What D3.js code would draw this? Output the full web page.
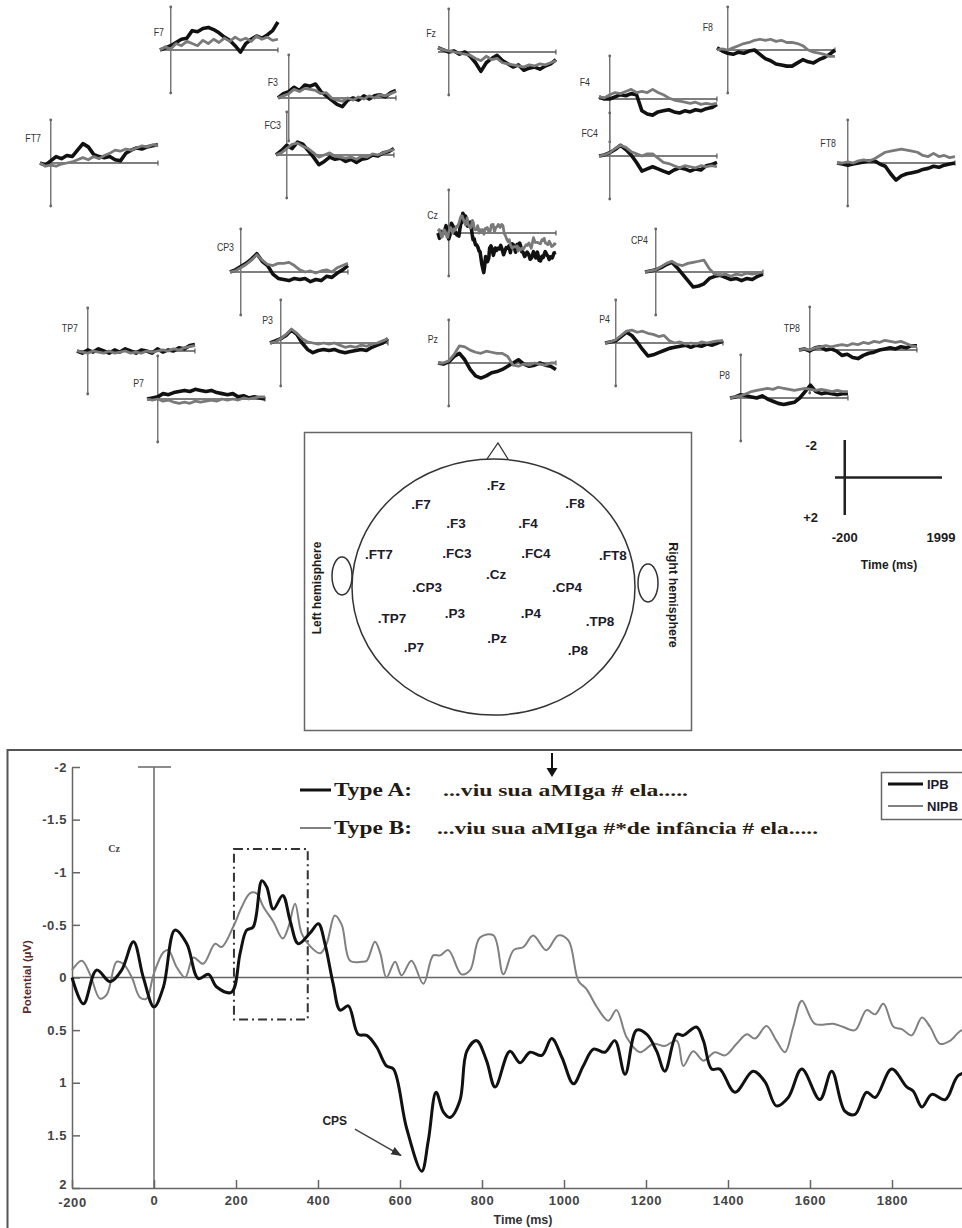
<!DOCTYPE html>
<html><head><meta charset="utf-8">
<script src="https://cdn.jsdelivr.net/npm/d3@7"></script>
<style>body{margin:0;background:#fff}svg{display:block}</style>
</head><body>
<svg id="c" width="962" height="1228"></svg>
<script>
// ===== Main Cz waveform data (ms, µV; negative up) =====
const ipbTime  = [-200,-172,-140,-107,-79,-50,-26,0,23,51,80,108,133,153,189,210,226,242,263,275,291,314,332,352,380,401,417,437,454,474,498,519,543,567,584,616,653,669,688,706,722,746,763,787,811,832,868,893,917,946,970,995,1023,1047,1072,1100,1124,1149,1177,1202,1226,1246,1275,1291,1323,1340,1360,1380,1417,1461,1490,1518,1547,1580,1624,1653,1685,1710,1738,1759,1799,1836,1852,1873,1897,1930,1962,1999];
const ipbValue = [0,0.25,-0.07,0.04,-0.07,-0.34,0,0.28,0.09,-0.45,-0.32,0.01,-0.03,0.09,0.14,-0.23,-0.45,-0.48,-0.92,-0.86,-0.65,-0.78,-0.54,-0.32,-0.42,-0.51,-0.32,0.06,0.31,0.27,0.54,0.55,0.66,0.84,0.87,1.43,1.84,1.55,1.09,1.28,1.33,1.17,0.70,0.60,0.79,1.04,0.70,0.81,0.71,0.74,0.58,0.76,1.01,0.84,0.68,0.71,0.60,0.92,0.50,0.54,0.70,0.89,0.54,0.55,0.47,0.60,0.87,0.87,1.09,0.89,0.99,1.22,1.14,0.87,1.16,0.89,1.27,1.30,1.09,1.14,0.87,1.04,1.08,1.23,1.11,1.16,0.93,0.90];
const nipbTime  = [-200,-176,-156,-132,-115,-91,-75,-54,-34,-18,-1,23,35,55,76,96,120,149,165,193,214,234,250,267,291,314,328,344,360,380,405,421,441,458,478,507,519,539,552,567,588,604,628,657,681,698,718,750,771,795,828,852,877,901,925,957,986,1011,1035,1055,1080,1108,1128,1153,1185,1218,1246,1275,1291,1315,1340,1368,1393,1421,1446,1466,1494,1518,1539,1559,1580,1612,1657,1681,1710,1738,1759,1779,1804,1824,1848,1873,1893,1917,1942,1971,1999];
const nipbValue = [-0.07,-0.16,-0.03,0.20,0.16,-0.15,-0.13,0,0.19,0.20,-0.03,-0.24,-0.26,-0.10,0,-0.19,-0.13,-0.32,-0.29,-0.48,-0.67,-0.80,-0.80,-0.67,-0.53,-0.37,-0.48,-0.70,-0.42,-0.30,-0.23,-0.32,-0.59,-0.50,-0.16,-0.15,-0.16,-0.34,-0.23,0,-0.15,-0.02,-0.16,0.06,-0.21,-0.21,-0.26,-0.03,-0.07,-0.38,-0.40,-0.03,-0.26,-0.29,-0.40,-0.26,-0.40,-0.35,0.03,0.11,0.28,0.41,0.31,0.57,0.71,0.63,0.65,0.60,0.84,0.70,0.79,0.71,0.74,0.63,0.54,0.58,0.46,0.60,0.71,0.47,0.22,0.44,0.44,0.47,0.50,0.31,0.35,0.25,0.47,0.49,0.55,0.38,0.47,0.63,0.60,0.50,0.55];
const mainYTicks = [-2,-1.5,-1,-0.5,0,0.5,1,1.5,2];
const mainXTicks = [-200,0,200,400,600,800,1000,1200,1400,1600,1800];
const seriesNames = ["IPB","NIPB"];
const windowStart = 195, windowEnd = 375, windowTop = -1.22, windowBottom = 0.4;

// ===== Topographic small waveforms (ms grid; µV) =====
const smallTime = [-200,-100,0,100,200,300,400,500,600,700,800,900,1000,1100,1200,1300,1400,1500,1600,1700,1800,1900,1999];
const ipbF7  = [0,-0.1,-0.2,-0.35,-0.5,-0.55,-0.9,-0.85,-1.0,-1.05,-0.95,-0.8,-0.6,-0.45,-0.2,0.1,-0.3,-0.5,-0.65,-0.55,-0.7,-0.9,-1.3];
const nipbF7 = [0,-0.15,-0.05,-0.3,-0.2,-0.4,-0.3,-0.2,-0.45,-0.3,-0.5,-0.35,-0.55,-0.4,-0.6,-0.45,-0.55,-0.4,-0.65,-0.5,-0.6,-0.45,-0.5];
const ipbF3  = [0,-0.2,-0.3,-0.5,-0.35,-0.6,-0.55,-0.65,-0.3,-0.1,0.1,0.3,0.4,0.1,0.0,0.1,-0.1,0.05,-0.1,-0.15,-0.05,-0.25,-0.35];
const nipbF3 = [0,-0.1,-0.2,-0.4,-0.3,-0.45,-0.4,-0.35,-0.2,-0.25,0.0,0.1,0.15,0.0,0.1,-0.05,0.05,-0.1,0.0,-0.15,-0.1,-0.2,-0.3];
const ipbFC3  = [0,-0.2,-0.45,-0.3,-0.6,-0.5,-0.2,0.1,0.45,0.3,0.1,0.2,0.15,0.3,0.2,0.35,0.2,0.15,0.0,0.05,-0.1,-0.15,-0.3];
const nipbFC3 = [0,-0.1,-0.3,-0.5,-0.55,-0.4,-0.3,-0.1,0.1,0.0,-0.1,0.05,0.1,0.15,0.1,0.2,0.05,0.1,-0.05,0.0,-0.1,-0.2,-0.25];
const ipbFT7  = [0,0.1,-0.1,-0.3,-0.2,-0.35,-0.3,-0.6,-0.9,-0.75,-0.4,-0.3,-0.25,-0.3,-0.15,-0.1,-0.45,-0.6,-0.7,-0.65,-0.75,-0.8,-0.85];
const nipbFT7 = [0,0.15,0.1,0.15,0.05,0.0,-0.05,-0.15,-0.25,-0.15,-0.3,-0.2,-0.35,-0.45,-0.6,-0.55,-0.65,-0.6,-0.7,-0.8,-0.75,-0.85,-0.8];
const ipbFz  = [-0.2,-0.1,0.0,-0.05,0.1,0.0,0.2,0.5,0.9,0.5,0.3,0.15,0.4,0.55,0.7,0.6,0.85,0.75,0.7,0.8,0.65,0.55,0.35];
const nipbFz = [-0.2,-0.1,-0.05,0.0,0.05,0.1,0.15,0.3,0.4,0.2,0.35,0.3,0.5,0.55,0.6,0.65,0.7,0.6,0.65,0.55,0.6,0.5,0.4];
const ipbF4  = [-0.1,0.0,0.0,-0.1,-0.2,-0.15,-0.25,-0.2,0.55,0.7,0.75,0.6,0.55,0.5,0.6,0.65,0.55,0.6,0.5,0.55,0.45,0.4,0.25];
const nipbF4 = [-0.1,-0.05,-0.2,-0.3,-0.25,-0.35,-0.45,-0.3,-0.35,-0.3,-0.45,-0.3,-0.2,-0.05,0.05,0.1,0.15,0.2,0.15,0.25,0.2,0.25,0.2];
const ipbFC4  = [0,-0.05,-0.15,-0.3,-0.5,-0.3,-0.05,0.3,0.7,0.6,0.5,0.6,0.7,0.8,0.65,0.55,0.6,0.7,0.6,0.65,0.45,0.4,0.3];
const nipbFC4 = [0,-0.05,-0.15,-0.35,-0.5,-0.4,-0.2,-0.1,0.0,-0.1,-0.1,0.1,0.3,0.35,0.45,0.55,0.45,0.5,0.55,0.45,0.5,0.45,0.5];
const ipbF8  = [-0.1,0.05,0.15,0.2,0.1,0.15,0.05,0.0,0.2,0.4,0.5,0.65,0.7,0.75,0.75,0.6,0.45,0.55,0.6,0.45,0.35,0.2,0.0];
const nipbF8 = [0,-0.05,0.0,-0.1,-0.2,-0.3,-0.35,-0.45,-0.5,-0.45,-0.5,-0.4,-0.45,-0.35,-0.35,-0.3,-0.2,0.0,0.1,0.15,0.2,0.3,0.3];
const ipbFT8  = [0,0.05,0.1,0.05,0.0,-0.05,-0.1,-0.1,0.05,0.15,0.5,0.8,0.6,0.5,0.45,0.4,0.3,0.25,0.15,0.2,0.1,0.05,0.0];
const nipbFT8 = [0,0.0,-0.05,0.0,-0.1,-0.15,-0.1,-0.2,-0.35,-0.5,-0.55,-0.6,-0.65,-0.6,-0.55,-0.5,-0.35,-0.3,-0.45,-0.3,-0.35,-0.25,-0.3];
const ipbCP3  = [0,-0.1,-0.25,-0.4,-0.6,-0.85,-0.5,-0.3,0.1,0.3,0.35,0.4,0.3,0.35,0.3,0.45,0.35,0.4,0.2,0.25,0.05,-0.1,-0.3];
const nipbCP3 = [0,-0.05,-0.2,-0.35,-0.55,-0.8,-0.55,-0.35,-0.3,-0.4,-0.4,-0.45,-0.3,-0.1,0.0,-0.05,0.05,-0.05,-0.1,0.0,-0.2,-0.3,-0.4];
const ipbTP7  = [0,0.1,-0.05,0.05,-0.1,0.0,0.1,-0.05,0.05,-0.1,0.0,0.1,-0.05,0.0,0.1,-0.1,0.05,-0.05,0.0,-0.15,-0.1,-0.25,-0.3];
const nipbTP7 = [0,0.05,0.1,0.0,0.05,0.1,0.0,0.1,0.05,0.0,0.1,0.05,0.1,0.0,0.05,0.0,-0.05,0.0,-0.1,-0.05,-0.15,-0.2,-0.25];
const ipbP3  = [0,-0.1,-0.2,-0.35,-0.6,-0.4,0.0,0.3,0.45,0.35,0.3,0.35,0.3,0.4,0.45,0.4,0.35,0.3,0.35,0.2,0.1,0.0,-0.2];
const nipbP3 = [0,-0.05,-0.2,-0.4,-0.65,-0.45,-0.2,-0.05,0.0,0.05,0.0,0.05,0.0,0.1,0.2,0.15,0.2,0.1,0.15,0.05,0.0,-0.1,-0.2];
const ipbP7  = [0,-0.05,-0.1,-0.25,-0.2,-0.3,-0.35,-0.4,-0.35,-0.45,-0.4,-0.35,-0.4,-0.3,-0.25,-0.2,-0.25,-0.1,-0.15,-0.05,-0.1,-0.05,0.0];
const nipbP7 = [0,0.05,0.0,0.1,0.05,0.15,0.2,0.15,0.2,0.1,0.15,0.1,0.05,0.1,0.0,0.05,0.0,0.05,-0.05,0.0,-0.05,-0.1,-0.1];
const ipbPz  = [0,0.05,-0.05,-0.3,-0.45,-0.15,0.3,0.6,0.7,0.6,0.45,0.4,0.3,0.15,0.0,-0.15,0.05,0.15,0.1,0.0,0.1,0.15,0.3];
const nipbPz = [0,0.0,-0.1,-0.4,-0.8,-0.75,-0.6,-0.5,-0.45,-0.55,-0.5,-0.45,-0.45,-0.3,0.1,0.15,0.05,0.1,0.0,0.05,0.1,0.0,0.0];
const ipbCP4  = [0,-0.05,-0.1,-0.2,-0.35,-0.45,-0.2,0.1,0.4,0.7,0.65,0.55,0.3,0.2,0.15,0.25,0.35,0.3,0.4,0.3,0.35,0.2,0.1];
const nipbCP4 = [0,-0.05,-0.1,-0.25,-0.4,-0.5,-0.35,-0.3,-0.4,-0.45,-0.5,-0.55,-0.15,0.1,0.15,0.1,0.2,0.1,0.15,0.05,0.1,0.05,0.0];
const ipbP4  = [0,-0.05,-0.1,-0.3,-0.5,-0.35,-0.05,0.3,0.6,0.55,0.45,0.35,0.25,0.2,0.15,0.1,0.2,0.1,0.15,0.05,0.1,0.0,-0.1];
const nipbP4 = [0,-0.05,-0.15,-0.35,-0.55,-0.6,-0.5,-0.55,-0.45,-0.4,-0.3,-0.35,-0.1,0.0,-0.05,0.05,0.0,0.05,-0.05,0.0,-0.05,-0.1,-0.1];
const ipbTP8  = [0,-0.05,0.05,-0.1,-0.15,0.0,-0.05,0.05,0.25,0.2,0.35,0.4,0.25,0.15,0.1,0.0,-0.05,-0.1,-0.05,-0.15,-0.1,-0.2,-0.2];
const nipbTP8 = [0,-0.05,0.0,-0.1,-0.15,-0.2,-0.15,-0.2,-0.25,-0.2,-0.3,-0.25,-0.35,-0.3,-0.4,-0.35,-0.45,-0.4,-0.35,-0.4,-0.3,-0.2,-0.15];
const ipbP8  = [0,-0.05,-0.15,-0.1,-0.05,0.0,-0.1,0.05,0.15,0.25,0.3,0.25,0.2,0.0,-0.3,-0.6,-0.3,-0.2,-0.25,-0.2,-0.15,-0.2,-0.2];
const nipbP8 = [0,-0.05,-0.1,-0.2,-0.3,-0.35,-0.4,-0.45,-0.4,-0.5,-0.45,-0.4,-0.35,-0.4,-0.45,-0.4,-0.35,-0.4,-0.35,-0.3,-0.35,-0.3,-0.3];
const electrodeNames = ["F7","F3","FC3","FT7","Fz","F4","FC4","F8","FT8","Cz","CP3","CP4","TP7","P3","P7","Pz","P4","TP8","P8"];
const headLabels = [".Fz",".F7",".F8",".F3",".F4",".FT7",".FC3",".FC4",".FT8",".Cz",".CP3",".CP4",".TP7",".P3",".P4",".TP8",".Pz",".P7",".P8"];
const scaleBarLabels = ["-2","+2","-200","1999","Time (ms)"];

// ===== layout (positions only) =====
const smallSeries = {
  F7:[ipbF7,nipbF7], F3:[ipbF3,nipbF3], FC3:[ipbFC3,nipbFC3], FT7:[ipbFT7,nipbFT7],
  Fz:[ipbFz,nipbFz], F4:[ipbF4,nipbF4], FC4:[ipbFC4,nipbFC4], F8:[ipbF8,nipbF8], FT8:[ipbFT8,nipbFT8],
  CP3:[ipbCP3,nipbCP3], TP7:[ipbTP7,nipbTP7], P3:[ipbP3,nipbP3], P7:[ipbP7,nipbP7], Pz:[ipbPz,nipbPz],
  CP4:[ipbCP4,nipbCP4], P4:[ipbP4,nipbP4], TP8:[ipbTP8,nipbTP8], P8:[ipbP8,nipbP8]
};
const smallLayout = {
  F7:{l:160,z:50,lx:164,ly:32}, F3:{l:278,z:98,lx:278,ly:82}, FC3:{l:276,z:155,lx:281,ly:125},
  FT7:{l:40,z:163,lx:41,ly:138}, Fz:{l:438,z:52,lx:436,ly:33}, F4:{l:599,z:99,lx:590,ly:82},
  FC4:{l:599,z:156,lx:598,ly:133}, F8:{l:717,z:50,lx:713,ly:27}, FT8:{l:837,z:163,lx:836,ly:143},
  Cz:{l:438,z:233,lx:438,ly:215}, CP3:{l:230,z:272,lx:234,ly:247}, CP4:{l:645,z:272,lx:648,ly:240},
  TP7:{l:77,z:351,lx:78,ly:328}, P3:{l:270,z:343,lx:273,ly:320}, P7:{l:147,z:399,lx:144,ly:383},
  Pz:{l:438,z:363,lx:438,ly:339}, P4:{l:605,z:343,lx:610,ly:319}, TP8:{l:799,z:350,lx:800,ly:328},
  P8:{l:730,z:398,lx:730,ly:375}
};
const headPos = [[496,485],[421,504],[575,503],[456,523],[528,523],[379,554],[457,553],[536,553],[613,555],[496,574],[427,587],[567,587],[392,618],[455,613],[531,613],[600,621],[497,638],[414,647],[578,650]];

const svg = d3.select("#c");
svg.append("rect").attr("width",962).attr("height",1228).attr("fill","#fff");
const defs = svg.append("defs");
defs.append("marker").attr("id","ah").attr("viewBox","0 0 10 10").attr("refX",9).attr("refY",5)
  .attr("markerWidth",7).attr("markerHeight",7).attr("orient","auto")
  .append("path").attr("d","M0,1 L10,5 L0,9 Z").attr("fill","#333");

const SANS = "'Liberation Sans', Arial, sans-serif";
const SERIF = "'Liberation Serif', 'Times New Roman', serif";

// ===== small plots =====
const gSmall = svg.append("g");
electrodeNames.forEach(name => {
  const L = smallLayout[name];
  const xs = d3.scaleLinear().domain([-200,2000]).range([L.l, L.l+118]);
  const ys = d3.scaleLinear().domain([-2,2]).range([L.z-43, L.z+43]);
  const g = gSmall.append("g");
  g.append("line").attr("x1",xs(-200)).attr("x2",xs(1999)).attr("y1",ys(0)).attr("y2",ys(0))
    .attr("stroke","#555").attr("stroke-width",1.3);
  g.append("line").attr("x1",xs(1999)).attr("x2",xs(1999)).attr("y1",ys(0)-2.5).attr("y2",ys(0)+2.5)
    .attr("stroke","#555").attr("stroke-width",1.2);
  g.append("line").attr("x1",xs(0)).attr("x2",xs(0)).attr("y1",ys(-2)).attr("y2",ys(2))
    .attr("stroke","#777").attr("stroke-width",1.5);
  [ -2, 2 ].forEach(v => g.append("circle").attr("cx",xs(0)).attr("cy",ys(v)).attr("r",1.4).attr("fill","#666"));
  let blk, gry;
  if (name === "Cz") {
    blk = ipbTime.map((t,i)=>[t,ipbValue[i]]);
    gry = nipbTime.map((t,i)=>[t,nipbValue[i]]);
  } else {
    blk = smallTime.map((t,i)=>[t,smallSeries[name][0][i]]);
    gry = smallTime.map((t,i)=>[t,smallSeries[name][1][i]]);
  }
  const ln = d3.line().x(d=>xs(d[0])).y(d=>ys(d[1])).curve(d3.curveLinear);
  g.append("path").attr("d",ln(blk)).attr("fill","none").attr("stroke","#111").attr("stroke-width",3.6).attr("stroke-linejoin","round");
  g.append("path").attr("d",ln(gry)).attr("fill","none").attr("stroke","#7a7a7a").attr("stroke-width",2.8).attr("stroke-linejoin","round");
  g.append("text").attr("transform",`translate(${L.lx},${L.ly}) scale(0.8,1)`).attr("dy","0.35em").attr("text-anchor","end")
    .attr("font-family",SANS).attr("font-size",11).attr("fill","#333").text(name);
});

// ===== head map =====
const gHead = svg.append("g");
gHead.append("rect").attr("x",304.5).attr("y",432.5).attr("width",387).attr("height",298)
  .attr("fill","none").attr("stroke","#666").attr("stroke-width",1.5);
gHead.append("ellipse").attr("cx",342).attr("cy",576).attr("rx",10).attr("ry",19).attr("fill","#fff").attr("stroke","#333").attr("stroke-width",1.5);
gHead.append("ellipse").attr("cx",648).attr("cy",583).attr("rx",10).attr("ry",19).attr("fill","#fff").attr("stroke","#333").attr("stroke-width",1.5);
gHead.append("ellipse").attr("cx",493.5).attr("cy",587).attr("rx",141.5).attr("ry",128).attr("fill","none").attr("stroke","#333").attr("stroke-width",1.5);
gHead.append("path").attr("d","M487,459 L498,443 L508,459").attr("fill","none").attr("stroke","#333").attr("stroke-width",1.3);
headLabels.forEach((t,i)=>{
  gHead.append("text").attr("x",headPos[i][0]).attr("y",headPos[i][1]).attr("dy","0.35em").attr("text-anchor","middle")
    .attr("font-family",SANS).attr("font-weight","bold").attr("font-size",13.5).attr("fill","#1b1b2b").text(t);
});
gHead.append("text").attr("transform","translate(321,588) rotate(-90)").attr("text-anchor","middle")
  .attr("font-family",SANS).attr("font-weight","bold").attr("font-size",12).attr("fill","#1b1b1b").text("Left hemisphere");
gHead.append("text").attr("transform","translate(669,595) rotate(90)").attr("text-anchor","middle")
  .attr("font-family",SANS).attr("font-weight","bold").attr("font-size",12.5).attr("fill","#1b1b1b").text("Right hemisphere");

// ===== scale bar =====
const sbx = d3.scaleLinear().domain([-200,1999]).range([835,942]);
const sby = d3.scaleLinear().domain([-2,2]).range([440,515]);
const gSB = svg.append("g");
gSB.append("line").attr("x1",sbx(0)).attr("x2",sbx(0)).attr("y1",sby(-2)).attr("y2",sby(2)).attr("stroke","#222").attr("stroke-width",2.5);
gSB.append("line").attr("x1",sbx(-200)).attr("x2",sbx(1999)).attr("y1",sby(0)).attr("y2",sby(0)).attr("stroke","#222").attr("stroke-width",2.5);
const sbt = (x,y,t,anchor,fs)=>gSB.append("text").attr("x",x).attr("y",y).attr("text-anchor",anchor)
  .attr("font-family",SANS).attr("font-weight","bold").attr("font-size",fs).attr("fill","#1b1b1b").text(t);
sbt(817,450,scaleBarLabels[0],"end",13);
sbt(818,522,scaleBarLabels[1],"end",13);
sbt(sbx(0),542,scaleBarLabels[2],"middle",13);
sbt(sbx(1999)-1,542,scaleBarLabels[3],"middle",13);
sbt(889,569,scaleBarLabels[4],"middle",12);

// ===== main Cz chart =====
const gM = svg.append("g");
gM.append("rect").attr("x",7.5).attr("y",750).attr("width",1000).attr("height",520)
  .attr("fill","none").attr("stroke","#555").attr("stroke-width",2);
const x = d3.scaleLinear().domain([-200,2000]).range([72,974]);
const y = d3.scaleLinear().domain([-2,2]).range([767,1188]);

const yAxis = d3.axisLeft(y).tickValues(mainYTicks).tickSize(-8).tickSizeOuter(0).tickPadding(5).tickFormat(d=>String(d));
const ya = gM.append("g").attr("transform","translate(72,0)").call(yAxis);
const xAxis = d3.axisBottom(x).tickValues(mainXTicks).tickSize(-8).tickSizeOuter(0).tickPadding(8).tickFormat(d=>String(d));
const xa = gM.append("g").attr("transform","translate(0,1188)").call(xAxis);
[ya,xa].forEach(a=>{
  a.select(".domain").attr("stroke","#666").attr("stroke-width",1.5);
  a.selectAll(".tick line").attr("stroke","#666").attr("stroke-width",1.5);
  a.selectAll(".tick text").attr("font-family",SANS).attr("font-weight","bold").attr("font-size",13)
    .attr("fill","#444").attr("letter-spacing","0.6px");
});
ya.selectAll(".tick text").filter(d=>d===2).attr("dy","0.05em");
xa.selectAll(".tick text").filter(d=>d===-200).attr("dy","0.85em");

gM.append("line").attr("x1",x(-200)).attr("x2",x(2000)).attr("y1",y(0)).attr("y2",y(0)).attr("stroke","#666").attr("stroke-width",1.5);
gM.append("line").attr("x1",x(0)).attr("x2",x(0)).attr("y1",y(-2)).attr("y2",y(2)).attr("stroke","#666").attr("stroke-width",1.5);
gM.append("line").attr("x1",x(0)-16).attr("x2",x(0)+17).attr("y1",y(-2)).attr("y2",y(-2)).attr("stroke","#666").attr("stroke-width",1.5);

gM.append("rect").attr("x",x(windowStart)).attr("y",y(windowTop)).attr("width",x(windowEnd)-x(windowStart))
  .attr("height",y(windowBottom)-y(windowTop)).attr("fill","none").attr("stroke","#333").attr("stroke-width",2)
  .attr("stroke-dasharray","9,4,2,4");

const line = d3.line().x(d=>x(d[0])).y(d=>y(d[1])).curve(d3.curveCatmullRom.alpha(0.5));
gM.append("path").attr("d",line(nipbTime.map((t,i)=>[t,nipbValue[i]]))).attr("fill","none").attr("stroke","#808080").attr("stroke-width",2);
gM.append("path").attr("d",line(ipbTime.map((t,i)=>[t,ipbValue[i]]))).attr("fill","none").attr("stroke","#111").attr("stroke-width",3);

gM.append("text").attr("transform","translate(31,977) rotate(-90)").attr("text-anchor","middle")
  .attr("font-family",SANS).attr("font-weight","bold").attr("font-size",11.5).attr("fill","#5a2b2b").text("Potential (\u00b5V)");
gM.append("text").attr("x",523).attr("y",1224).attr("text-anchor","middle")
  .attr("font-family",SANS).attr("font-weight","bold").attr("font-size",12.5).attr("fill","#333").text("Time (ms)");
gM.append("text").attr("x",114).attr("y",852).attr("text-anchor","middle")
  .attr("font-family",SERIF).attr("font-weight","bold").attr("font-size",10).attr("fill","#444").text("Cz");

// CPS annotation
gM.append("text").attr("x",x(441)).attr("y",y(1.36)+4).attr("text-anchor","middle")
  .attr("font-family",SANS).attr("font-weight","bold").attr("font-size",12).attr("fill","#222").text("CPS");
gM.append("line").attr("x1",x(490)).attr("y1",y(1.44)).attr("x2",x(602)).attr("y2",y(1.69))
  .attr("stroke","#444").attr("stroke-width",1.5).attr("marker-end","url(#ah)");

// Type A / Type B legend
gM.append("line").attr("x1",300).attr("x2",331).attr("y1",790).attr("y2",790).attr("stroke","#111").attr("stroke-width",3);
gM.append("line").attr("x1",300).attr("x2",331).attr("y1",828).attr("y2",828).attr("stroke","#808080").attr("stroke-width",2);
gM.append("text").attr("x",334).attr("y",796).attr("font-family",SERIF).attr("font-weight","bold").attr("font-size",19)
  .attr("fill","#1e1a16").attr("textLength",78).attr("lengthAdjust","spacingAndGlyphs").text("Type A:");
gM.append("text").attr("x",334).attr("y",834).attr("font-family",SERIF).attr("font-weight","bold").attr("font-size",19)
  .attr("fill","#1e1a16").attr("textLength",78).attr("lengthAdjust","spacingAndGlyphs").text("Type B:");
gM.append("text").attr("x",443).attr("y",796).attr("font-family",SERIF).attr("font-weight","bold").attr("font-size",17)
  .attr("fill","#2a1d12").attr("textLength",245).attr("lengthAdjust","spacingAndGlyphs").text("...viu sua aMIga # ela.....");
gM.append("text").attr("x",437).attr("y",834).attr("font-family",SERIF).attr("font-weight","bold").attr("font-size",17)
  .attr("fill","#2a1d12").attr("textLength",381).attr("lengthAdjust","spacingAndGlyphs").text("...viu sua aMIga #*de inf\u00e2ncia # ela.....");
// down arrow
gM.append("line").attr("x1",552).attr("x2",552).attr("y1",753).attr("y2",770).attr("stroke","#111").attr("stroke-width",2);
gM.append("path").attr("d","M546.5,768 L557.5,768 L552,777 Z").attr("fill","#111");

// IPB / NIPB legend box
const lg = gM.append("g");
lg.append("rect").attr("x",881.5).attr("y",772.5).attr("width",100).attr("height",47).attr("fill","#fff").attr("stroke","#666").attr("stroke-width",1.5);
seriesNames.forEach((s,i)=>{
  const yy = 784 + i*22;
  lg.append("line").attr("x1",888).attr("x2",923).attr("y1",yy).attr("y2",yy)
    .attr("stroke", i===0?"#111":"#808080").attr("stroke-width", i===0?3:2);
  lg.append("text").attr("x",927).attr("y",yy).attr("dy","0.36em").attr("font-family",SANS).attr("font-weight","bold")
    .attr("font-size",13).attr("fill","#1b1b2b").text(s);
});
</script>
</body></html>
